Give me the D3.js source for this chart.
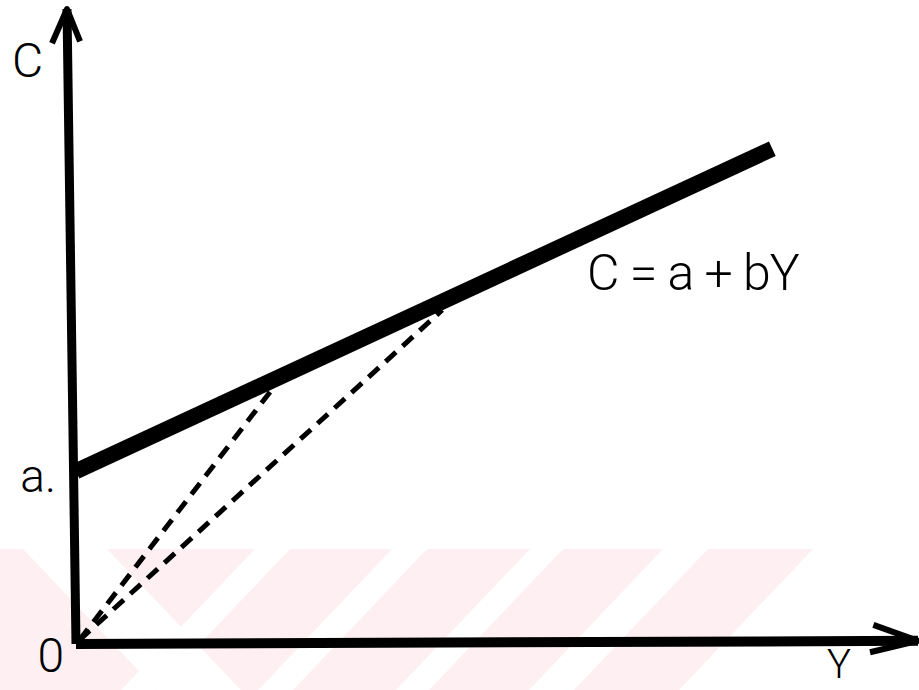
<!DOCTYPE html>
<html>
<head>
<meta charset="utf-8">
<script src="https://cdn.jsdelivr.net/npm/d3@7"></script>
<style>
  html, body { margin: 0; padding: 0; background: #fff; }
  svg { display: block; }
  text { font-family: Roboto, "Open Sans", sans-serif; font-weight: 300; fill: #000; }
</style>
</head>
<body>
<div id="chart"></div>
<script>
// consumption function C = a + bY (values in chart units, Y and C from 0 to 100)
var interceptA = 27.2;
var consumptionLine = [ { Y: 0, C: 27.2 }, { Y: 82.7, C: 78.0 } ];
// points on the line that the dashed rays from the origin go to
var rayEnds = [ { Y: 23.4, C: 40.3 }, { Y: 43.5, C: 52.6 } ];
// hand drawn axes (slightly leaning) and their arrow heads
var yAxisPts = [ { Y: 0, C: 0 }, { Y: -1.07, C: 100 } ];
var xAxisPts = [ { Y: 0, C: 0 }, { Y: 100, C: 0.5 } ];
var yArrow = [ { Y: -2.85, C: 94.6 }, { Y: -1.07, C: 100 }, { Y: 0.48, C: 94.9 } ];
var xArrow = [ { Y: 94.7, C: 3.0 }, { Y: 100, C: 0.5 }, { Y: 94.3, C: -1.3 } ];
var labels = { yAxis: "C", xAxis: "Y", origin: "0", intercept: "a.", equation: "C = a + bY" };

var width = 919, height = 690;

var svg = d3.select("#chart")
    .append("svg")
    .attr("width", width)
    .attr("height", height);

// 比例尺
var x = d3.scaleLinear().domain([0, 100]).range([76, 918]);
var y = d3.scaleLinear().domain([0, 100]).range([644, 9]);

// faint watermark stripes from the scan
var wm = svg.append("g").attr("class", "watermark");
var top0 = 549, bot0 = 690, k = 0.95 * (bot0 - top0);
wm.append("polygon")
    .attr("points", [[0, top0], [813, top0], [813 - k, bot0], [0, bot0]].join(" "))
    .style("fill", "#fdeff2");
[[255, 290], [392, 427], [530, 563], [663, 708]].forEach(function(g) {
    wm.append("polygon")
        .attr("points", [[g[0], top0], [g[1], top0], [g[1] - k, bot0], [g[0] - k, bot0]].join(" "))
        .style("fill", "#fff");
});
wm.append("polygon")
    .attr("points", [[23, top0], [107, top0], [107 + k, bot0], [23 + k, bot0]].join(" "))
    .style("fill", "#fff");

var line = d3.line()
    .x(function(d) { return x(d.Y); })
    .y(function(d) { return y(d.C); });

// dashed rays from the origin
svg.selectAll("path.ray")
    .data(rayEnds)
    .enter()
    .append("path")
    .attr("class", "ray")
    .attr("d", function(d) { return line([{ Y: 0.4, C: 0.6 }, d]); })
    .style("fill", "none")
    .style("stroke", "#000")
    .style("stroke-width", 5)
    .style("stroke-dasharray", "14,9");

// axes
svg.append("path")
    .attr("d", line(yAxisPts))
    .style("fill", "none")
    .style("stroke", "#000")
    .style("stroke-width", 9);

svg.append("path")
    .attr("d", line(xAxisPts))
    .style("fill", "none")
    .style("stroke", "#000")
    .style("stroke-width", 10);

svg.append("path")
    .attr("d", line(yArrow))
    .style("fill", "none")
    .style("stroke", "#000")
    .style("stroke-width", 6)
    .style("stroke-linejoin", "round");

svg.append("path")
    .attr("d", line(xArrow))
    .style("fill", "none")
    .style("stroke", "#000")
    .style("stroke-width", 6)
    .style("stroke-linejoin", "round");

// consumption line
svg.append("path")
    .attr("d", line(consumptionLine))
    .style("fill", "none")
    .style("stroke", "#000")
    .style("stroke-width", 16);

// labels
svg.append("text")
    .attr("x", x(0) - 64)
    .attr("y", y(100) + 68)
    .style("font-size", "48px")
    .text(labels.yAxis);

svg.append("text")
    .attr("x", x(0) - 20)
    .attr("y", y(interceptA) + 21)
    .style("text-anchor", "end")
    .style("font-size", "46px")
    .text(labels.intercept);

svg.append("text")
    .attr("x", x(0) - 12)
    .attr("y", y(0) + 28)
    .style("text-anchor", "end")
    .style("font-size", "48px")
    .text(labels.origin);

svg.append("text")
    .attr("x", x(100) - 79)
    .attr("y", y(0) + 34)
    .style("text-anchor", "middle")
    .style("font-size", "40px")
    .text(labels.xAxis);

svg.append("text")
    .attr("x", 587)
    .attr("y", 290)
    .style("font-size", "50px")
    .style("letter-spacing", "-1px")
    .text(labels.equation);
</script>
</body>
</html>
